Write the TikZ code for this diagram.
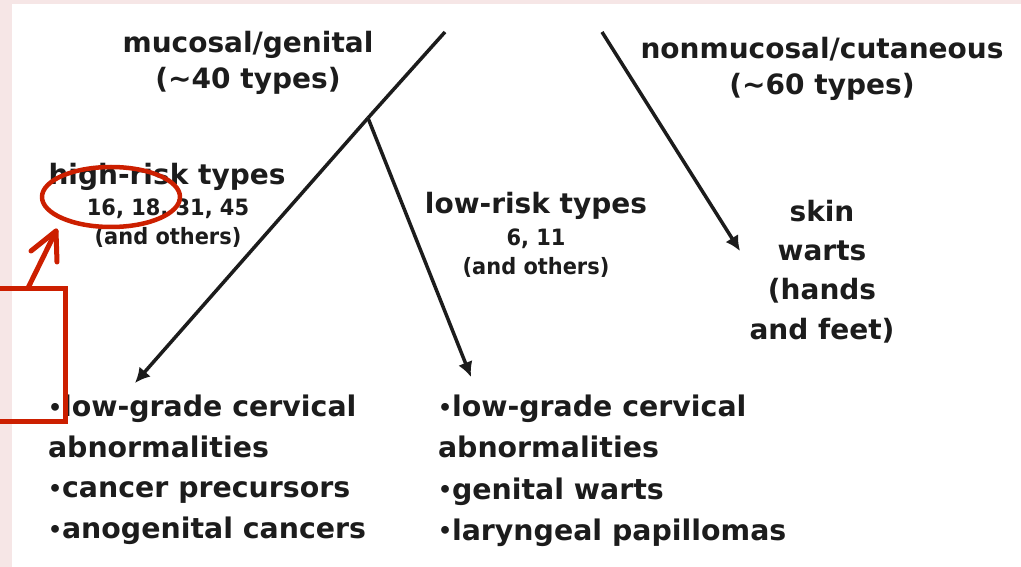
\documentclass[tikz,border=0pt]{standalone}
\usepackage{fontspec}
\setmainfont{DejaVu Sans}
\newfontfamily\numfont[FakeStretch=0.93]{DejaVu Sans}
\usetikzlibrary{arrows.meta}
\definecolor{pinkbg}{HTML}{F6E6E6}
\definecolor{annot}{HTML}{CC1F00}
\definecolor{ink}{HTML}{1C1C1C}
\newcommand{\mybul}{\raisebox{1.5pt}{\fontsize{22}{0}\selectfont •}}
\begin{document}
\begin{tikzpicture}[x=1pt,y=-1pt,
  txt/.style={inner sep=0pt, outer sep=0pt, text=ink, align=center,
    font=\bfseries\fontsize{28}{36}\selectfont},
  numtxt/.style={inner sep=0pt, outer sep=0pt, text=ink, align=center,
    font=\numfont\bfseries\fontsize{22.5}{28.5}\selectfont},
  listtxt/.style={inner sep=0pt, outer sep=0pt, text=ink, align=left,
    font=\bfseries\fontsize{28.4}{40.7}\selectfont},
  conn/.style={draw=ink, line width=3.5pt, -{Latex[length=15pt,width=15pt]}},
  plainconn/.style={draw=ink, line width=3.5pt},
  annotline/.style={draw=annot, line width=5pt, line cap=round, line join=round}]
\useasboundingbox (0,0) rectangle (1021,567);
\clip (0,0) rectangle (1021,567);
\fill[pinkbg] (0,0) rectangle (1021,567);
\fill[white] (12,4) rectangle (1021,567);

% text blocks
\node[txt, anchor=north] (muc) at (248,31) {mucosal/genital\\(\textasciitilde40 types)};
\node[txt, anchor=north] (nonmuc) at (822,37) {nonmucosal/cutaneous\\(\textasciitilde60 types)};
\node[txt, anchor=north] (high) at (167,163) {high-risk types};
\node[numtxt, anchor=north] (hnum) at (168,199) {16, 18, 31, 45\\(and others)};
\node[txt, anchor=north] (low) at (536,192) {low-risk types};
\node[numtxt, anchor=north] (lnum) at (536,229) {6, 11\\(and others)};
\node[txt, anchor=north, font=\bfseries\fontsize{28}{39.3}\selectfont] (skin) at (822,200) {skin\\warts\\(hands\\and feet)};
\node[listtxt, anchor=north west] (hlist) at (48,395) {\mybul low-grade cervical\\abnormalities\\\mybul cancer precursors\\\mybul anogenital cancers};
\node[listtxt, anchor=north west, font=\bfseries\fontsize{28.4}{41.3}\selectfont] (llist) at (438,395) {\mybul low-grade cervical\\abnormalities\\\mybul genital warts\\\mybul laryngeal papillomas};

% connectors
\coordinate (mtop) at (445,32);
\coordinate (junc) at (368,118);
\coordinate (htip) at (135,383);
\coordinate (ltip) at (471,377);
\coordinate (ntop) at (602,32);
\coordinate (stip) at (740,251);
\draw[plainconn] (mtop) -- (junc);
\draw[conn] (junc) -- (htip);
\draw[conn] (junc) -- (ltip);
\draw[conn] (ntop) -- (stip);

% red annotation
\draw[annotline, line join=miter] (-10,288) rectangle (65,421);
\coordinate (rbase) at (28,288);
\coordinate (rtip) at (56,231);
\coordinate (rarmA) at (31,251);
\coordinate (rarmB) at (57,262);
\draw[annotline] (rbase) -- (rtip);
\draw[annotline] (rarmA) -- (rtip) -- (rarmB);
\coordinate (ring) at (111,197);
\draw[annotline, line width=4.5pt] (ring) ellipse [x radius=69pt, y radius=30pt];
\end{tikzpicture}
\end{document}
